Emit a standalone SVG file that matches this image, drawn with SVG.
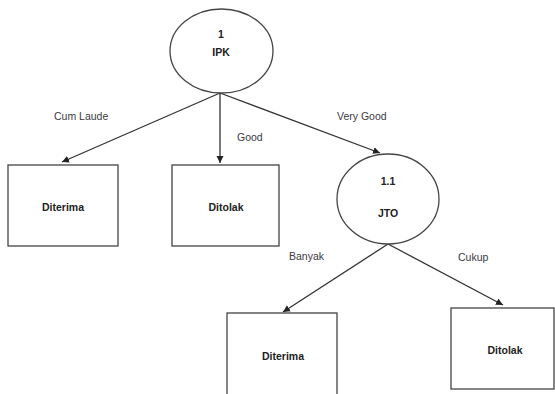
<svg xmlns="http://www.w3.org/2000/svg" width="555" height="394" viewBox="0 0 555 394">
<defs>
<marker id="ah" markerWidth="8" markerHeight="8" refX="7" refY="4" orient="auto" markerUnits="userSpaceOnUse">
<path d="M0,0.5 L7,4 L0,7.5 Z" fill="#222"/>
</marker>
<style>
.shape{fill:#fff;stroke:#444;stroke-width:1.3}
.edge{stroke:#333;stroke-width:1.3;fill:none;marker-end:url(#ah)}
.lbl{font-family:"Liberation Sans",Arial,sans-serif;font-size:10.5px;fill:#3a3a45}
.nt{font-family:"Liberation Sans",Arial,sans-serif;font-size:10.5px;font-weight:bold;fill:#222;text-anchor:middle}
</style>
</defs>
<rect width="555" height="394" fill="#fff"/>
<g id="connectors">
<line class="edge" x1="220" y1="93" x2="62" y2="162"/>
<line class="edge" x1="220" y1="93" x2="220" y2="163"/>
<line class="edge" x1="220" y1="93" x2="380" y2="153"/>
<line class="edge" x1="388" y1="244" x2="283" y2="312"/>
<line class="edge" x1="388" y1="244" x2="503" y2="305"/>
<text class="lbl" x="54" y="120">Cum Laude</text>
<text class="lbl" x="237" y="141">Good</text>
<text class="lbl" x="337" y="120">Very Good</text>
<text class="lbl" x="289" y="260">Banyak</text>
<text class="lbl" x="458" y="261">Cukup</text>
</g>
<g id="n1">
<ellipse class="shape" cx="221.5" cy="51" rx="51.5" ry="42"/>
<text class="nt" x="221" y="38">1</text>
<text class="nt" x="221" y="56">IPK</text>
</g>
<g id="n2">
<rect class="shape" x="8" y="165" width="110" height="81"/>
<text class="nt" x="63" y="211">Diterima</text>
</g>
<g id="n3">
<rect class="shape" x="172" y="165" width="107" height="81"/>
<text class="nt" x="226" y="211">Ditolak</text>
</g>
<g id="n4">
<ellipse class="shape" cx="388" cy="199" rx="51" ry="45"/>
<text class="nt" x="388" y="185">1.1</text>
<text class="nt" x="388" y="217">JTO</text>
</g>
<g id="n5">
<rect class="shape" x="227" y="313" width="110" height="90"/>
<text class="nt" x="283" y="360">Diterima</text>
</g>
<g id="n6">
<rect class="shape" x="451" y="308" width="103" height="81"/>
<text class="nt" x="505" y="354">Ditolak</text>
</g>
</svg>
